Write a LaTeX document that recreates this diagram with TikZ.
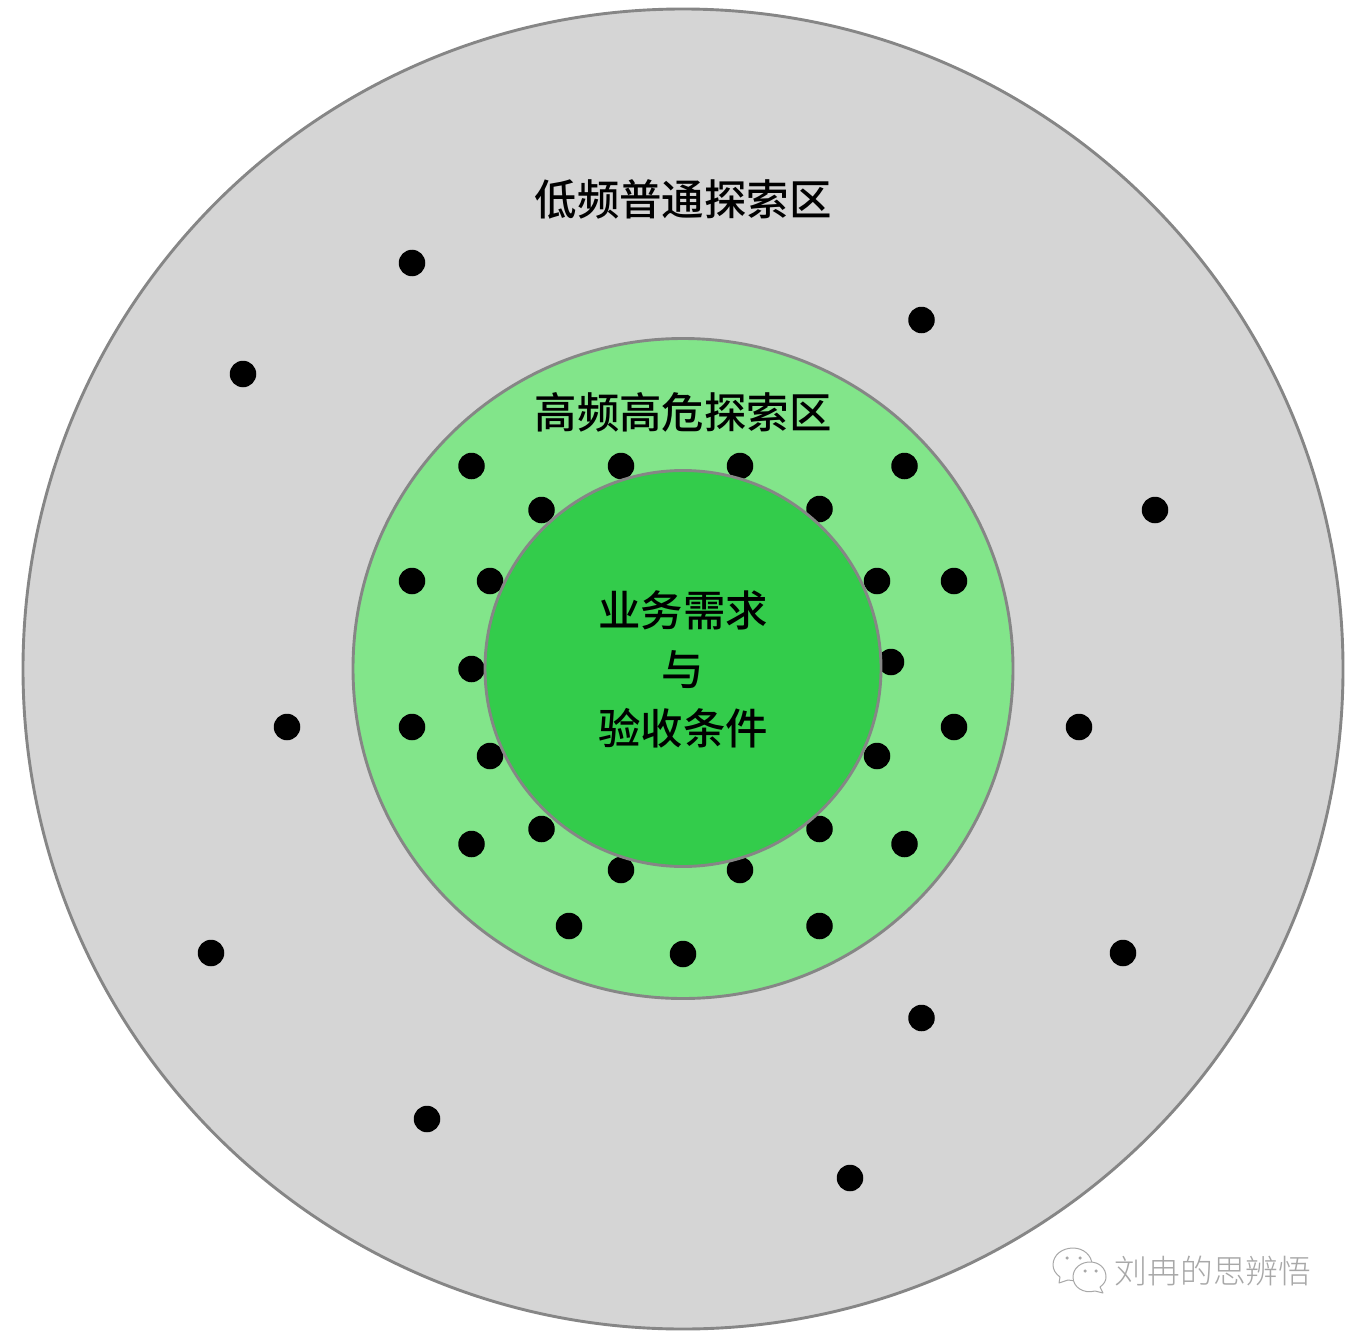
\documentclass[tikz,border=0pt]{standalone}
\usepackage{fontspec}
\newfontfamily\cjk[UprightFont=* Medium]{Noto Sans CJK SC}
\newfontfamily\cjklight[UprightFont=* Light]{Noto Sans CJK SC}
\definecolor{ringgray}{HTML}{D5D5D5}
\definecolor{ringlight}{HTML}{82E58A}
\definecolor{ringcore}{HTML}{33CC4B}
\definecolor{ringline}{HTML}{868686}
\definecolor{markgray}{HTML}{A8A8A8}
\tikzset{
  ring/.style={circle,draw=ringline,line width=2.9pt,inner sep=0pt,minimum size=#1},
  spot/.style={circle,fill=black,inner sep=0pt,minimum size=26.5pt},
  zonetext/.style={font=\cjk\fontsize{42.4}{59}\selectfont,text=black,inner sep=0pt},
  markline/.style={draw=markgray,line width=1pt,line join=round},
  markdot/.style={circle,fill=markgray,inner sep=0pt,minimum size=3.5pt}
}
\begin{document}
\begin{tikzpicture}[x=1pt,y=-1pt]
\useasboundingbox (0,0) rectangle (1356,1332);
\fill[white] (0,0) rectangle (1356,1332);
\node[ring=1320pt,fill=ringgray] (outer) at (683,669) {};
\node[ring=660pt,fill=ringlight] (middle) at (683,668.5) {};
\foreach \n/\x/\y in {a1/412/263,a2/921.5/320,a3/243/374,a4/1155/510,a5/287/727,a6/1079/727,a7/211/953,a8/1123/953,a9/921.5/1018,a10/427/1119,a11/850/1178,
b1/471.5/466,b2/621/466,b3/740/466,b4/904.5/466,b5/541.5/510,b6/819.5/509,b7/412/581,b8/490/581,b9/877/581,b10/954/581,b11/891/662,b12/471.5/669,b13/412/727,b14/954/727,b15/490/756,b16/877/756,b17/541.5/829,b18/819.5/829,b19/471.5/844,b20/904.5/844,b21/621/870,b22/740/870,b23/569/926,b24/819.5/926,b25/683/954}
  {\node[spot] (\n) at (\x,\y) {};}
\node[ring=396pt,fill=ringcore] (core) at (683,668.5) {};
\node[zonetext] (lowzone) at (683,199) {低频普通探索区};
\node[zonetext] (highzone) at (683,412) {高频高危探索区};
\node[zonetext,align=center] (coretext) at (683,669) {业务需求\\与\\验收条件};
% watermark
\draw[markline,fill=white] (1060,1277) -- (1059,1283) -- (1068,1280)
  .. controls (1082,1283) and (1092,1275) .. (1092,1265)
  .. controls (1092,1255) and (1083,1248) .. (1073,1248)
  .. controls (1062,1248) and (1053,1255) .. (1053,1265)
  .. controls (1053,1270) and (1056,1274) .. (1060,1277) -- cycle;
\draw[markline,fill=white] (1100,1287) -- (1103,1293) -- (1095,1291)
  .. controls (1083,1294) and (1073,1287) .. (1073,1277)
  .. controls (1073,1268) and (1081,1262) .. (1090,1262)
  .. controls (1099,1262) and (1106,1268) .. (1106,1277)
  .. controls (1106,1281) and (1104,1284) .. (1100,1287) -- cycle;
\node[markdot] (eye1) at (1067,1258) {};
\node[markdot] (eye2) at (1080,1258) {};
\node[markdot] (eye3) at (1085,1271) {};
\node[markdot] (eye4) at (1096,1271) {};
\node[font=\cjklight\fontsize{32.7}{34}\selectfont,text=markgray,inner sep=0pt] (mark) at (1213,1271) {刘冉的思辨悟};
\end{tikzpicture}
\end{document}
